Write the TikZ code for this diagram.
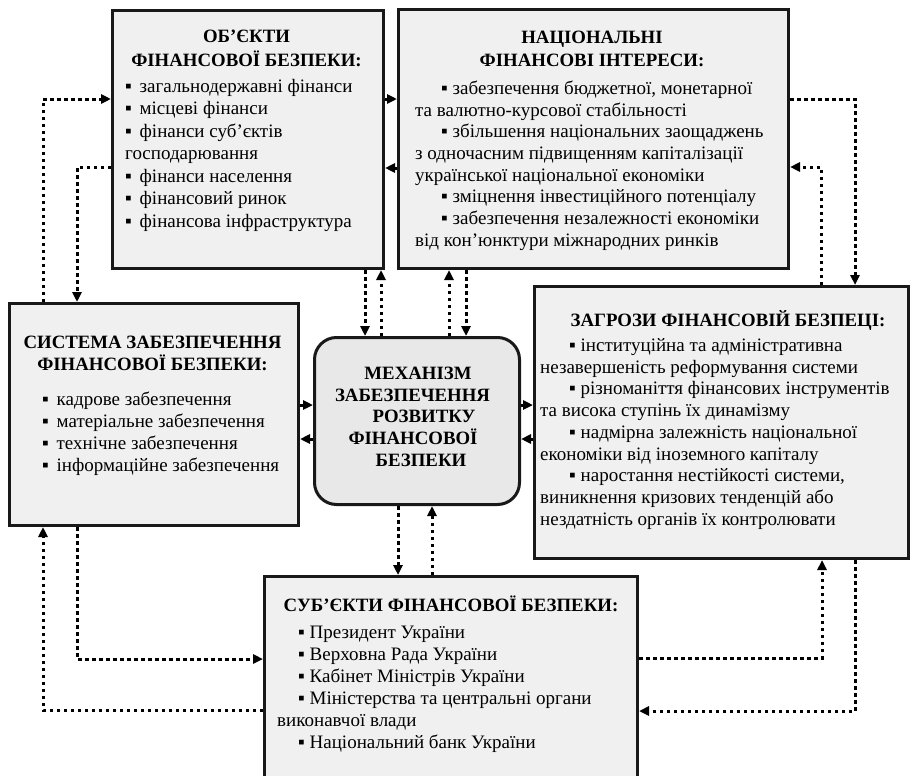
\documentclass[tikz,border=0pt]{standalone}
\usepackage{fontspec}
\setmainfont{Liberation Serif}
\usetikzlibrary{arrows.meta}

% list marker used in the boxes
\newcommand\blt{▪}
\newcommand\tabblt{\makebox[14.5pt][l]{▪}}
% a block of hand-broken lines, aligned on the baseline of its first line
\newcommand\linesblock[1]{\parbox[t]{600pt}{#1}}

\tikzset{
  panel/.style={draw=black!90, line width=3pt, fill=black!6, inner sep=0pt,
                anchor=north west},
  core/.style={panel, fill=black!9, rounded corners=22pt},
  heading/.style={inner sep=0pt, anchor=base, align=center,
                  font=\fontsize{18.8}{23.5}\selectfont\bfseries},
  body/.style={inner sep=0pt, anchor=base west,
               font=\fontsize{19}{21.7}\selectfont},
  flow/.style={draw=black, line width=3pt, dash pattern=on 3.5pt off 3.5pt,
               -{Triangle[length=10pt,width=9pt]}},
}

\begin{document}
\begin{tikzpicture}[x=1pt,y=-1pt]
\useasboundingbox (0,0) rectangle (910,776);
\fill[white] (0,0) rectangle (910,776);
\clip (0,0) rectangle (910,776);

% ---------- boxes ----------
\node[panel, minimum width=271pt, minimum height=258pt] (A) at (111,9) {};
\node[panel, minimum width=390pt, minimum height=259pt] (B) at (397,8) {};
\node[panel, minimum width=289pt, minimum height=222pt] (C) at (8,302) {};
\node[core,  minimum width=205pt, minimum height=167pt] (M) at (313,336) {};
\node[panel, minimum width=374pt, minimum height=272pt] (D) at (533,285) {};
\node[panel, minimum width=373pt, minimum height=230pt] (E) at (263,575) {};

% ---------- objects ----------
\node[heading, font=\fontsize{18.8}{24}\selectfont\bfseries] (Ah) at (246.5,42.3)
  {\begin{tabular}[t]{@{}c@{}}ОБ’ЄКТИ\\ФІНАНСОВОЇ БЕЗПЕКИ:\end{tabular}};
\node[body] (Ab) at (125,92.3) {\linesblock{\fontsize{19}{22.5}\selectfont
  \tabblt загальнодержавні фінанси\\
  \tabblt місцеві фінанси\\
  \tabblt фінанси суб’єктів\\
  господарювання\\
  \tabblt фінанси населення\\
  \tabblt фінансовий ринок\\
  \tabblt фінансова інфраструктура}};

% ---------- national interests ----------
\node[heading] (Bh) at (592,43.3)
  {\begin{tabular}[t]{@{}c@{}}НАЦІОНАЛЬНІ\\ФІНАНСОВІ ІНТЕРЕСИ:\end{tabular}};
\node[body] (Bb) at (415,94.3) {\linesblock{
  \hspace*{26pt}\blt{} забезпечення бюджетної, монетарної\\
  та валютно-курсової стабільності\\
  \hspace*{26pt}\blt{} збільшення національних заощаджень\\
  з одночасним підвищенням капіталізації\\
  української національної економіки\\
  \hspace*{26pt}\blt{} зміцнення інвестиційного потенціалу\\
  \hspace*{26pt}\blt{} забезпечення незалежності економіки\\
  від кон’юнктури міжнародних ринків}};

% ---------- support system ----------
\node[heading, font=\fontsize{18.8}{22}\selectfont\bfseries] (Ch) at (152.5,348.3)
  {\begin{tabular}[t]{@{}c@{}}СИСТЕМА ЗАБЕЗПЕЧЕННЯ\\ФІНАНСОВОЇ БЕЗПЕКИ:\end{tabular}};
\node[body] (Cb) at (42,405.3) {\linesblock{\fontsize{19}{22}\selectfont
  \tabblt кадрове забезпечення\\
  \tabblt матеріальне забезпечення\\
  \tabblt технічне забезпечення\\
  \tabblt інформаційне забезпечення}};

% ---------- mechanism ----------
\node[heading, font=\fontsize{18.8}{21.75}\selectfont\bfseries] (Mh) at (416,379.3)
  {\begin{tabular}[t]{@{}c@{}}\hspace*{4pt}МЕХАНІЗМ\\
   ЗАБЕЗПЕЧЕННЯ\hspace*{7pt}\\
   \hspace*{16pt}РОЗВИТКУ\\
   ФІНАНСОВОЇ\hspace*{6pt}\\
   \hspace*{10pt}БЕЗПЕКИ\end{tabular}};

% ---------- threats ----------
\node[heading] (Dh) at (728,326.3) {ЗАГРОЗИ ФІНАНСОВІЙ БЕЗПЕЦІ:};
\node[body] (Db) at (540,351.3) {\linesblock{\fontsize{19}{21.75}\selectfont
  \hspace*{29pt}\blt{} інституційна та адміністративна\\
  незавершеність реформування системи\\
  \hspace*{29pt}\blt{} різноманіття фінансових інструментів\\
  та висока ступінь їх динамізму\\
  \hspace*{29pt}\blt{} надмірна залежність національної\\
  економіки від іноземного капіталу\\
  \hspace*{29pt}\blt{} наростання нестійкості системи,\\
  виникнення кризових тенденцій або\\
  нездатність органів їх контролювати}};

% ---------- subjects ----------
\node[heading] (Eh) at (451,611.3) {СУБ’ЄКТИ ФІНАНСОВОЇ БЕЗПЕКИ:};
\node[body] (Eb) at (277,638.3) {\linesblock{\fontsize{19}{22}\selectfont
  \hspace*{21pt}\blt{} Президент України\\
  \hspace*{21pt}\blt{} Верховна Рада України\\
  \hspace*{21pt}\blt{} Кабінет Міністрів України\\
  \hspace*{21pt}\blt{} Міністерства та центральні органи\\
  виконавчої влади\\
  \hspace*{21pt}\blt{} Національний банк України}};

% ---------- connectors ----------
% outer loop on the left
\draw[flow] (C.north -| 43,0) |- (A.west |- 0,99);
\draw[flow] (A.west |- 0,167) -| (C.north -| 77,0);
% outer loop on the right
\draw[flow] (B.east |- 0,99) -| (D.north -| 855,0);
\draw[flow] (D.north -| 821,0) |- (B.east |- 0,167);
% between the two upper boxes
\draw[flow] (A.east |- 0,99) -- (B.west |- 0,99);
\draw[flow] (B.west |- 0,168) -- (A.east |- 0,168);
% upper boxes and the mechanism
\draw[flow] (A.south -| 365,0) -- (M.north -| 365,0);
\draw[flow] (M.north -| 381,0) -- (A.south -| 381,0);
\draw[flow] (M.north -| 449,0) -- (B.south -| 449,0);
\draw[flow] (B.south -| 466,0) -- (M.north -| 466,0);
% side boxes and the mechanism
\draw[flow] (C.east |- 0,405) -- (M.west |- 0,405);
\draw[flow] (M.west |- 0,439) -- (C.east |- 0,439);
\draw[flow] (M.east |- 0,405) -- (D.west |- 0,405);
\draw[flow] (D.west |- 0,439) -- (M.east |- 0,439);
% mechanism and subjects
\draw[flow] (M.south -| 398,0) -- (E.north -| 398,0);
\draw[flow] (E.north -| 432,0) -- (M.south -| 432,0);
% lower loops
\draw[flow] (C.south -| 77,0) |- (E.west |- 0,659);
\draw[flow] (E.west |- 0,710) -| (C.south -| 43,0);
\draw[flow] (E.east |- 0,658) -| (D.south -| 822,0);
\draw[flow] (D.south -| 855,0) |- (E.east |- 0,711);
\end{tikzpicture}
\end{document}
